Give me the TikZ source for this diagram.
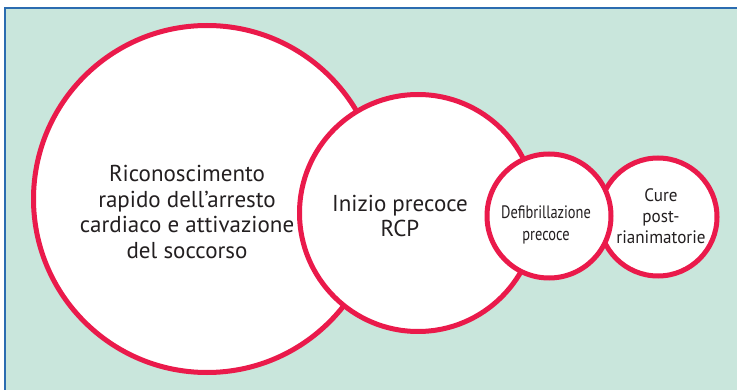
\documentclass[tikz,border=0pt]{standalone}
\usepackage{fontspec}
\setmainfont{PT Sans}
\newfontfamily\narrowfont{PT Sans}[FakeStretch=0.8]
\newfontfamily\semifont{PT Sans}[FakeStretch=0.95]
\definecolor{bgmint}{HTML}{C9E6DC}
\definecolor{frameblue}{HTML}{2B6CB0}
\definecolor{ringred}{HTML}{EA1A4B}
\definecolor{txt}{HTML}{231F20}
\begin{document}
\begin{tikzpicture}[x=1pt,y=-1pt,
  ring/.style={circle,draw=ringred,line width=5pt,fill=white,inner sep=0pt},
  bigtxt/.style={align=center,text=txt,font=\fontsize{23}{25.5}\selectfont},
  smalltxt/.style={align=center,text=txt,font=\narrowfont\fontsize{18}{21.5}\selectfont},
  tinytxt/.style={align=center,text=txt,font=\semifont\fontsize{18}{21}\selectfont}]
\useasboundingbox (0,0) rectangle (737,390);
\fill[white] (0,0) rectangle (737,390);
\fill[bgmint] (5,8) rectangle (737,390);
\draw[frameblue,line width=1.8pt] (5,391) -- (5,8) -- (738,8);
\node[ring,minimum size=347pt] (c1) at (207,199) {};
\node[ring,minimum size=237pt] (c2) at (418,213) {};
\node[ring,minimum size=118pt] (c4) at (658,217) {};
\node[ring,minimum size=124pt] (c3) at (549,216) {};
\node[bigtxt] (t1) at (187,212) {Riconoscimento\\rapido dell’arresto\\cardiaco e attivazione\\del soccorso};
\node[bigtxt] (t2) at (400,216) {Inizio precoce\\RCP};
\node[smalltxt] (t3) at (546,225) {Defibrillazione\\precoce};
\node[tinytxt] (t4) at (661,216) {Cure\\post-\\rianimatorie};
\end{tikzpicture}
\end{document}
